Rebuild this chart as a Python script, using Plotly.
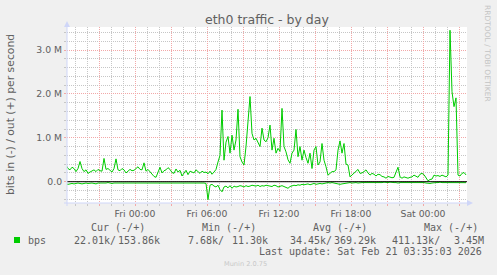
import pandas as pd
import plotly.graph_objects as go

# ---------------- data (bits per second, in millions) ----------------
start_time = "2026-02-19 18:15"
step = "10min"

out_mbps = [
    0.38, 0.30, 0.27, 0.33, 0.30, 0.23, 0.30, 0.46, 0.30, 0.23,
    0.27, 0.19, 0.22, 0.25, 0.27, 0.23, 0.28, 0.25, 0.24, 0.53,
    0.28, 0.30, 0.25, 0.22, 0.30, 0.52, 0.27, 0.25, 0.30, 0.27,
    0.20, 0.24, 0.28, 0.25, 0.26, 0.30, 0.34, 0.28, 0.27, 0.43,
    0.24, 0.28, 0.23, 0.17, 0.12, 0.10, 0.22, 0.33, 0.20, 0.25,
    0.27, 0.32, 0.28, 0.21, 0.19, 0.29, 0.22, 0.26, 0.13, 0.20,
    0.26, 0.16, 0.24, 0.22, 0.20, 0.27, 0.23, 0.19, 0.24, 0.21,
    0.22, 0.18, 0.24, 0.17, 0.22, 0.28, 0.45, 0.60, 1.63, 0.49,
    0.90, 1.03, 0.65, 1.06, 0.72, 0.95, 1.65, 0.57, 0.45, 0.38,
    0.80, 1.35, 1.94, 1.10, 0.95, 0.99, 0.91, 0.80, 1.22, 0.95,
    0.91, 1.00, 1.29, 0.72, 0.99, 0.65, 0.76, 0.69, 1.67, 0.80,
    0.68, 0.50, 0.42, 0.65, 0.72, 1.19, 0.57, 0.80, 0.49, 0.72,
    0.55, 0.42, 0.65, 0.30, 0.72, 0.80, 0.38, 0.45, 0.87, 0.49,
    0.34, 0.15, 0.19, 0.23, 0.23, 0.27, 0.72, 0.93, 0.65, 0.87,
    0.40, 0.38, 0.11, 0.15, 0.18, 0.22, 0.28, 0.19, 0.20, 0.23,
    0.27, 0.20, 0.15, 0.19, 0.17, 0.13, 0.17, 0.16, 0.12, 0.11,
    0.08, 0.12, 0.11, 0.09, 0.10, 0.20, 0.33, 0.11, 0.08, 0.11,
    0.09, 0.08, 0.10, 0.11, 0.15, 0.12, 0.10, 0.17, 0.19, 0.16,
    0.09, 0.02, 0.05, 0.06, 0.15, 0.13, 0.14, 0.12, 0.15, 0.12,
    0.11, 0.15, 3.45, 2.05, 1.71, 1.91, 0.15, 0.13, 0.19, 0.21,
    0.154,
]

in_mbps = [
    0.05, 0.06, 0.05, 0.04, 0.05, 0.04, 0.03, 0.04, 0.05, 0.04,
    0.03, 0.04, 0.03, 0.03, 0.04, 0.05, 0.03, 0.03, 0.04, 0.03,
    0.03, 0.02, 0.03, 0.04, 0.03, 0.03, 0.02, 0.03, 0.03, 0.02,
    0.03, 0.02, 0.02, 0.03, 0.02, 0.02, 0.03, 0.02, 0.02, 0.02,
    0.03, 0.02, 0.02, 0.02, 0.03, 0.02, 0.02, 0.02, 0.02, 0.03,
    0.02, 0.02, 0.02, 0.03, 0.02, 0.02, 0.02, 0.02, 0.03, 0.02,
    0.02, 0.02, 0.02, 0.02, 0.03, 0.02, 0.02, 0.02, 0.02, 0.03,
    0.04, 0.41, 0.08, 0.06, 0.10, 0.12, 0.08, 0.18, 0.23, 0.12,
    0.10, 0.14, 0.09, 0.15, 0.10, 0.12, 0.11, 0.09, 0.10, 0.12,
    0.09, 0.11, 0.10, 0.08, 0.09, 0.10, 0.08, 0.11, 0.09, 0.10,
    0.08, 0.09, 0.10, 0.11, 0.08, 0.09, 0.12, 0.10, 0.09, 0.11,
    0.13, 0.15, 0.11, 0.10, 0.08, 0.09, 0.07, 0.08, 0.06, 0.07,
    0.06, 0.05, 0.07, 0.05, 0.04, 0.06, 0.05, 0.04, 0.05, 0.04,
    0.03, 0.02, 0.03, 0.02, 0.03, 0.04, 0.05, 0.06, 0.05, 0.04,
    0.03, 0.02, 0.02, 0.03, 0.02, 0.02, 0.03, 0.02, 0.02, 0.02,
    0.02, 0.03, 0.02, 0.02, 0.02, 0.03, 0.02, 0.02, 0.02, 0.01,
    0.02, 0.02, 0.01, 0.02, 0.02, 0.02, 0.03, 0.02, 0.02, 0.02,
    0.01, 0.02, 0.02, 0.02, 0.01, 0.02, 0.02, 0.02, 0.02, 0.02,
    0.03, 0.04, 0.04, 0.03, 0.02, 0.02, 0.02, 0.01, 0.02, 0.02,
    0.02, 0.03, 0.02, 0.02, 0.02, 0.02, 0.02, 0.02, 0.02, 0.02,
    0.022,
]

major_tick_times = [
    "2026-02-19 21:00", "2026-02-20 00:00", "2026-02-20 03:00",
    "2026-02-20 06:00", "2026-02-20 09:00", "2026-02-20 12:00",
    "2026-02-20 15:00", "2026-02-20 18:00", "2026-02-20 21:00",
    "2026-02-21 00:00", "2026-02-21 03:00",
]
major_tick_labels = [
    "", "Fri 00:00", "", "Fri 06:00", "", "Fri 12:00",
    "", "Fri 18:00", "", "Sat 00:00", "",
]
y_tick_values = [0, 1, 2, 3]
y_tick_labels = ["0.0", "1.0 M", "2.0 M", "3.0 M"]

legend_headers = ["Cur (-/+)", "Min (-/+)", "Avg (-/+)", "Max (-/+)"]
legend_in = ["22.01k/", "7.68k/", "34.45k/", "411.13k/"]
legend_out = ["153.86k", "11.30k", "369.29k", "3.45M"]
series_name = "bps"
last_update = "Last update: Sat Feb 21 03:35:03 2026"

# ---------------- layout geometry ----------------
W, H = 497, 275
L, R, T, B = 67, 30, 27, 72
PW, PH = W - L - R, H - T - B
BOTTOM = H - B


def X(px):
    return (px - L) / PW


def Y(py):
    return (BOTTOM - py) / PH


GREEN = "#00CC00"
FONT = "#606060"
GRID = "#C6C6C6"
MGRID = "#F2A8A8"
AXIS = "#CFD6F8"
SANS = "DejaVu Sans"
MONO = "DejaVu Sans Mono"

times = pd.date_range(start_time, periods=len(out_mbps), freq=step)

fig = go.Figure()
fig.add_trace(go.Scatter(x=times, y=out_mbps, mode="lines",
                         line=dict(color=GREEN, width=1), hoverinfo="skip"))
fig.add_trace(go.Scatter(x=times, y=[-v for v in in_mbps], mode="lines",
                         line=dict(color=GREEN, width=1), hoverinfo="skip"))

fig.update_layout(
    width=W, height=H,
    margin=dict(l=L, r=R, t=T, b=B, pad=0),
    paper_bgcolor="#F0F0F0",
    plot_bgcolor="#FFFFFF",
    showlegend=False,
    font=dict(family=SANS, color=FONT, size=9.3),
)

fig.update_xaxes(
    type="date",
    range=["2026-02-19 18:20", "2026-02-21 03:40"],
    tickmode="array", tickvals=major_tick_times, ticktext=major_tick_labels,
    showgrid=True, gridcolor=MGRID, griddash="1px,1px", gridwidth=1,
    ticks="outside", ticklen=2, tickcolor=MGRID,
    tickfont=dict(family=SANS, size=9.3, color=FONT),
    minor=dict(dtick=3600000, tick0="2026-02-19 00:00", showgrid=True,
               gridcolor=GRID, griddash="1px,1px", gridwidth=1,
               ticks="outside", ticklen=2, tickcolor=GRID),
    showline=False, zeroline=False, fixedrange=True,
)
fig.update_yaxes(
    range=[-0.485, 3.524],
    tickmode="array", tickvals=y_tick_values, ticktext=y_tick_labels,
    showgrid=True, gridcolor=MGRID, griddash="1px,1px", gridwidth=1,
    ticks="outside", ticklen=2, tickcolor=MGRID,
    tickfont=dict(family=SANS, size=9.3, color=FONT),
    minor=dict(dtick=0.2, tick0=0, showgrid=True,
               gridcolor=GRID, griddash="1px,1px", gridwidth=1,
               ticks="outside", ticklen=2, tickcolor=GRID),
    showline=False, zeroline=False, fixedrange=True,
)

shapes = [
    # zero rule
    dict(type="line", xref="paper", yref="y", x0=0, x1=1, y0=0, y1=0,
         line=dict(color="#000000", width=1), layer="above"),
    # y axis + arrow
    dict(type="line", xref="paper", yref="paper", x0=X(67), x1=X(67),
         y0=Y(206), y1=Y(25), line=dict(color=AXIS, width=1), layer="above"),
    dict(type="path", xref="paper", yref="paper",
         path=f"M {X(67)},{Y(21)} L {X(64)},{Y(27)} L {X(70)},{Y(27)} Z",
         fillcolor=AXIS, line=dict(width=0), layer="above"),
    # x axis + arrow
    dict(type="line", xref="paper", yref="paper", x0=X(64), x1=X(469),
         y0=Y(203), y1=Y(203), line=dict(color=AXIS, width=1), layer="above"),
    dict(type="path", xref="paper", yref="paper",
         path=f"M {X(473)},{Y(203)} L {X(467)},{Y(200)} L {X(467)},{Y(206)} Z",
         fillcolor=AXIS, line=dict(width=0), layer="above"),
    # legend colour box
    dict(type="rect", xref="paper", yref="paper", x0=X(14), x1=X(20),
         y0=Y(243), y1=Y(237), fillcolor=GREEN, line=dict(width=0)),
]
fig.update_layout(shapes=shapes)

ann = []


def text(px, py, s, anchor="left", size=10, family=MONO, color=FONT, angle=0):
    ann.append(dict(x=X(px), y=Y(py), xref="paper", yref="paper", text=s,
                    showarrow=False, xanchor=anchor, yanchor="middle",
                    textangle=angle, borderpad=0,
                    font=dict(family=family, size=size, color=color)))


text(267, 19, "eth0 traffic - by day", anchor="center", size=12.5, family=SANS)
text(10, 115, "bits in (-) / out (+) per second", anchor="center", size=10.8,
     family=SANS, angle=-90)
text(488, 53, "RRDTOOL / TOBI OETIKER", anchor="center", size=7.5,
     family=SANS, color="#C4C4C4", angle=90)

header_x = [90, 200.7, 312.3, 422.7]
in_x = [72.7, 186.7, 289, 391]
out_x = [116.7, 230.7, 333.3, 453.3]
for hx, h in zip(header_x, legend_headers):
    text(hx, 227.7, h)
text(26.7, 240, series_name)
for ix, s in zip(in_x, legend_in):
    text(ix, 240, s)
for ox, s in zip(out_x, legend_out):
    text(ox, 240, s)
text(482.5, 251, last_update, anchor="right")
text(245, 264, "Munin 2.0.75", anchor="center", size=6.6, family=SANS,
     color="#C8C8C8")

fig.update_layout(annotations=ann)
fig.write_html("out.html")
